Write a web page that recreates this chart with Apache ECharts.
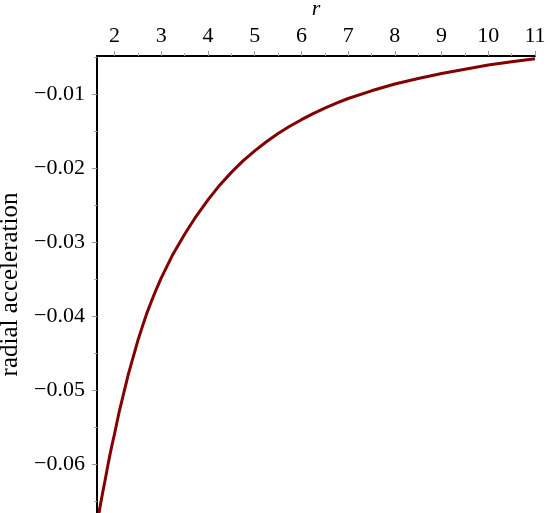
<!DOCTYPE html>
<html>
<head>
<meta charset="utf-8">
<script src="https://cdn.jsdelivr.net/npm/echarts@6/dist/echarts.min.js"></script>
<style>
html,body{margin:0;padding:0;background:#fff;}
#chart{width:550px;height:513px;}
</style>
</head>
<body>
<div id="chart"></div>
<script>
// Data
const rValues = [1.62, 1.65, 1.7, 1.75, 1.8, 1.85, 1.9, 1.95, 2.0, 2.1, 2.2, 2.3, 2.4, 2.5, 2.6, 2.7, 2.8, 2.9, 3.0, 3.25, 3.5, 3.75, 4.0, 4.25, 4.5, 4.75, 5.0, 5.25, 5.5, 5.75, 6.0, 6.25, 6.5, 6.75, 7.0, 7.5, 8.0, 8.5, 9.0, 9.5, 10.0, 10.5, 11.0];
const accelValues = [-0.0684, -0.06723, -0.0654, -0.06371, -0.0621, -0.06041, -0.0588, -0.05729, -0.0559, -0.0529, -0.0503, -0.04773, -0.0455, -0.04326, -0.0413, -0.03944, -0.0378, -0.03625, -0.0348, -0.0316, -0.0289, -0.02644, -0.02425, -0.02226, -0.02053, -0.01898, -0.01762, -0.01638, -0.01527, -0.01429, -0.0134, -0.01258, -0.01183, -0.01115, -0.01053, -0.00949, -0.00857, -0.00783, -0.00715, -0.00656, -0.00601, -0.00556, -0.00515];
const xTickValues = [2, 3, 4, 5, 6, 7, 8, 9, 10, 11];
const xMinorTickValues = [2.5, 3.5, 4.5, 5.5, 6.5, 7.5, 8.5, 9.5, 10.5];
const yTickValues = [-0.06, -0.05, -0.04, -0.03, -0.02, -0.01];
const yMinorTickValues = [-0.065, -0.055, -0.045, -0.035, -0.025, -0.015, -0.005];
const xLabel = 'r';
const yLabel = 'radial acceleration';

const serif = '"Liberation Serif", "Times New Roman", serif';
const chart = echarts.init(document.getElementById('chart'), null, {renderer: 'canvas'});
const xMin = 1.624, xMax = 11.0, yMin = -0.06663, yMax = -0.00478;

const option = {
  animation: false,
  backgroundColor: '#ffffff',
  grid: {left: 97, top: 56, right: 15, bottom: 0, containLabel: false, outerBoundsMode: 'none'},
  xAxis: [{
    type: 'value', position: 'top', min: xMin, max: xMax,
    name: xLabel, nameLocation: 'middle', nameGap: 26,
    nameTextStyle: {fontFamily: serif, fontStyle: 'italic', fontSize: 22, color: '#000'},
    axisLine: {show: true, onZero: false, lineStyle: {color: '#000', width: 2}},
    axisTick: {show: true, inside: false, length: 5, lineStyle: {color: '#999', width: 1}, customValues: xTickValues},
    axisLabel: {show: true, margin: 9, fontFamily: serif, fontSize: 22, color: '#000', customValues: xTickValues,
      formatter: v => String(Math.round(v))},
    splitLine: {show: false}
  }, {
    type: 'value', position: 'top', min: xMin, max: xMax,
    axisLine: {show: false},
    axisTick: {show: true, length: 3, lineStyle: {color: '#aaa', width: 1}, customValues: xMinorTickValues},
    axisLabel: {show: false},
    splitLine: {show: false}
  }],
  yAxis: [{
    type: 'value', position: 'left', min: yMin, max: yMax,
    name: yLabel, nameLocation: 'middle', nameRotate: 90, nameGap: 54,
    nameTextStyle: {fontFamily: serif, fontSize: 25, color: '#000'},
    axisLine: {show: true, onZero: false, lineStyle: {color: '#000', width: 2}},
    axisTick: {show: true, length: 5, lineStyle: {color: '#999', width: 1}, customValues: yTickValues},
    axisLabel: {show: true, margin: 12, fontFamily: serif, fontSize: 22, color: '#000', customValues: yTickValues,
      formatter: v => '\u2212' + Math.abs(v).toFixed(2)},
    splitLine: {show: false}
  }, {
    type: 'value', position: 'left', min: yMin, max: yMax,
    axisLine: {show: false},
    axisTick: {show: true, length: 3, lineStyle: {color: '#aaa', width: 1}, customValues: yMinorTickValues},
    axisLabel: {show: false},
    splitLine: {show: false}
  }],
  series: [{
    type: 'line',
    xAxisIndex: 0, yAxisIndex: 0,
    data: rValues.map((r, i) => [r, accelValues[i]]),
    smooth: false,
    showSymbol: false,
    clip: true,
    lineStyle: {color: '#820000', width: 3, join: 'round'}
  }]
};
chart.setOption(option);
</script>
</body>
</html>
